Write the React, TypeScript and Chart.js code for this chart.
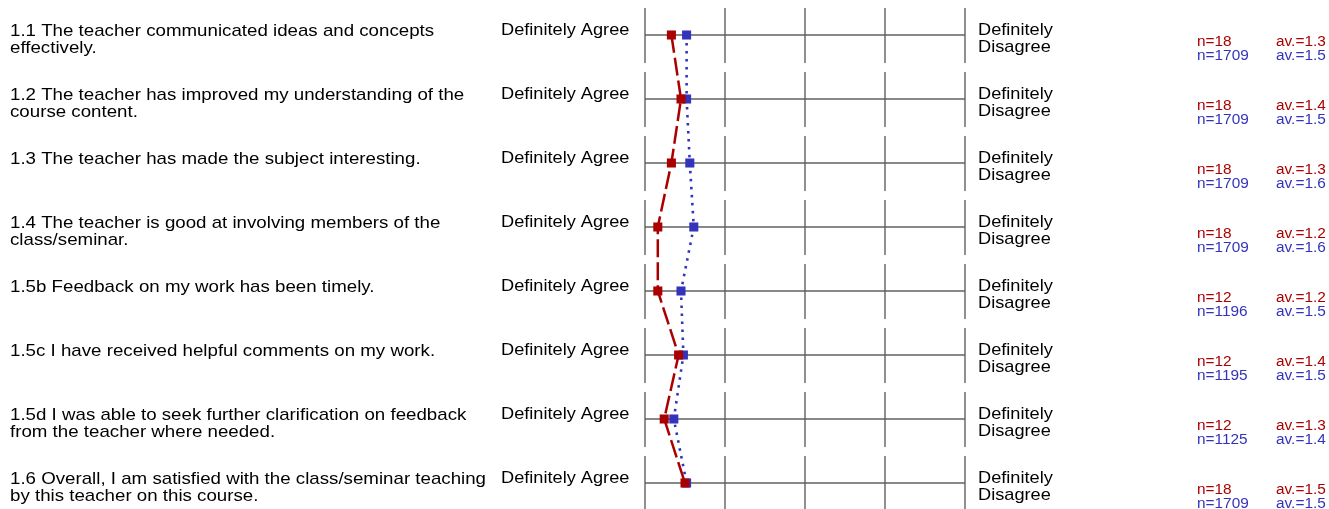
import React, { useEffect, useRef } from "react";
import { Chart, registerables } from "chart.js";

Chart.register(...registerables);

const questions: string[][] = [
  ["1.1 The teacher communicated ideas and concepts", "effectively."],
  ["1.2 The teacher has improved my understanding of the", "course content."],
  ["1.3 The teacher has made the subject interesting."],
  ["1.4 The teacher is good at involving members of the", "class/seminar."],
  ["1.5b Feedback on my work has been timely."],
  ["1.5c I have received helpful comments on my work."],
  ["1.5d I was able to seek further clarification on feedback", "from the teacher where needed."],
  ["1.6 Overall, I am satisfied with the class/seminar teaching", "by this teacher on this course."],
];

const leftPole = "Definitely Agree";
const rightPole = ["Definitely", "Disagree"];
const scaleTicks = [1, 2, 3, 4, 5];

const courseValues = [1.33, 1.45, 1.33, 1.16, 1.16, 1.42, 1.24, 1.5];
const allValues = [1.52, 1.52, 1.56, 1.61, 1.45, 1.48, 1.36, 1.52];

const courseN = ["18", "18", "18", "18", "12", "12", "12", "18"];
const allN = ["1709", "1709", "1709", "1709", "1196", "1195", "1125", "1709"];
const courseAv = ["1.3", "1.4", "1.3", "1.2", "1.2", "1.4", "1.3", "1.5"];
const allAv = ["1.5", "1.5", "1.6", "1.6", "1.5", "1.5", "1.4", "1.5"];

const RED = "#aa0000";
const BLUE = "#3333bb";
const FONT = '"Liberation Sans", Arial, sans-serif';

function drawText(ctx: CanvasRenderingContext2D, t: string, x: number, y: number, sx: number) {
  ctx.save();
  ctx.translate(x, y);
  ctx.scale(sx, 1);
  ctx.fillText(t, 0, 0);
  ctx.restore();
}

const profilePlugin = {
  id: "profile",
  beforeDatasetsDraw(chart: any) {
    const ctx = chart.ctx as CanvasRenderingContext2D;
    const xs = chart.scales.x;
    const ys = chart.scales.y;
    ctx.save();
    ctx.strokeStyle = "#606060";
    ctx.lineWidth = 1.4;
    questions.forEach((_, i) => {
      const y = ys.getPixelForValue(i);
      const x0 = xs.getPixelForValue(scaleTicks[0]);
      const x1 = xs.getPixelForValue(scaleTicks[scaleTicks.length - 1]);
      ctx.beginPath();
      ctx.moveTo(x0, y);
      ctx.lineTo(x1, y);
      ctx.stroke();
      scaleTicks.forEach((t) => {
        const x = xs.getPixelForValue(t);
        ctx.beginPath();
        ctx.moveTo(x, y - 27);
        ctx.lineTo(x, y + 28);
        ctx.stroke();
      });
    });
    ctx.restore();
  },
  afterDraw(chart: any) {
    const ctx = chart.ctx as CanvasRenderingContext2D;
    const ys = chart.scales.y;
    ctx.save();
    ctx.textBaseline = "alphabetic";
    ctx.textAlign = "left";
    questions.forEach((q, i) => {
      const y = ys.getPixelForValue(i);
      ctx.fillStyle = "#000";
      ctx.font = `17px ${FONT}`;
      q.forEach((line, k) => drawText(ctx, line, 10, y + 1 + k * 17, 1.1));
      drawText(ctx, leftPole, 501, y, 1.07);
      rightPole.forEach((line, k) => drawText(ctx, line, 978, y + k * 17, 1.07));
      ctx.font = `14px ${FONT}`;
      ctx.fillStyle = RED;
      drawText(ctx, "n=" + courseN[i], 1197, y + 11, 1.1);
      drawText(ctx, "av.=" + courseAv[i], 1276, y + 11, 1.1);
      ctx.fillStyle = BLUE;
      drawText(ctx, "n=" + allN[i], 1197, y + 25, 1.1);
      drawText(ctx, "av.=" + allAv[i], 1276, y + 25, 1.1);
    });
    ctx.restore();
  },
};

export default function App() {
  const ref = useRef<HTMLCanvasElement>(null);
  useEffect(() => {
    document.body.style.margin = "0";
    const chart = new Chart(ref.current!, {
      type: "scatter",
      data: {
        datasets: [
          {
            label: "course",
            data: courseValues.map((v, i) => ({ x: v, y: i })),
            showLine: true,
            borderColor: RED,
            backgroundColor: RED,
            borderWidth: 2.5,
            borderDash: [18, 5],
            pointStyle: "rect",
            pointRadius: 6.4,
            pointBorderWidth: 0,
            pointBackgroundColor: RED,
            clip: false as any,
          },
          {
            label: "all",
            data: allValues.map((v, i) => ({ x: v, y: i })),
            showLine: true,
            borderColor: BLUE,
            backgroundColor: BLUE,
            borderWidth: 2.6,
            borderDash: [2.5, 5.5],
            pointStyle: "rect",
            pointRadius: 6.4,
            pointBorderWidth: 0,
            pointBackgroundColor: BLUE,
            clip: false as any,
          },
        ],
      },
      options: {
        animation: false,
        responsive: false,
        layout: { padding: { left: 645, right: 364, top: 35, bottom: 26 } },
        plugins: { legend: { display: false }, tooltip: { enabled: false } },
        scales: {
          x: { type: "linear", min: 1, max: 5, display: false },
          y: { type: "linear", min: 0, max: 7, reverse: true, display: false },
        },
      },
      plugins: [profilePlugin],
    });
    return () => chart.destroy();
  }, []);
  return (
    <div style={{ position: "absolute", left: 0, top: 0, width: 1329, height: 509, background: "#fff" }}>
      <canvas ref={ref} width={1329} height={509} />
    </div>
  );
}
